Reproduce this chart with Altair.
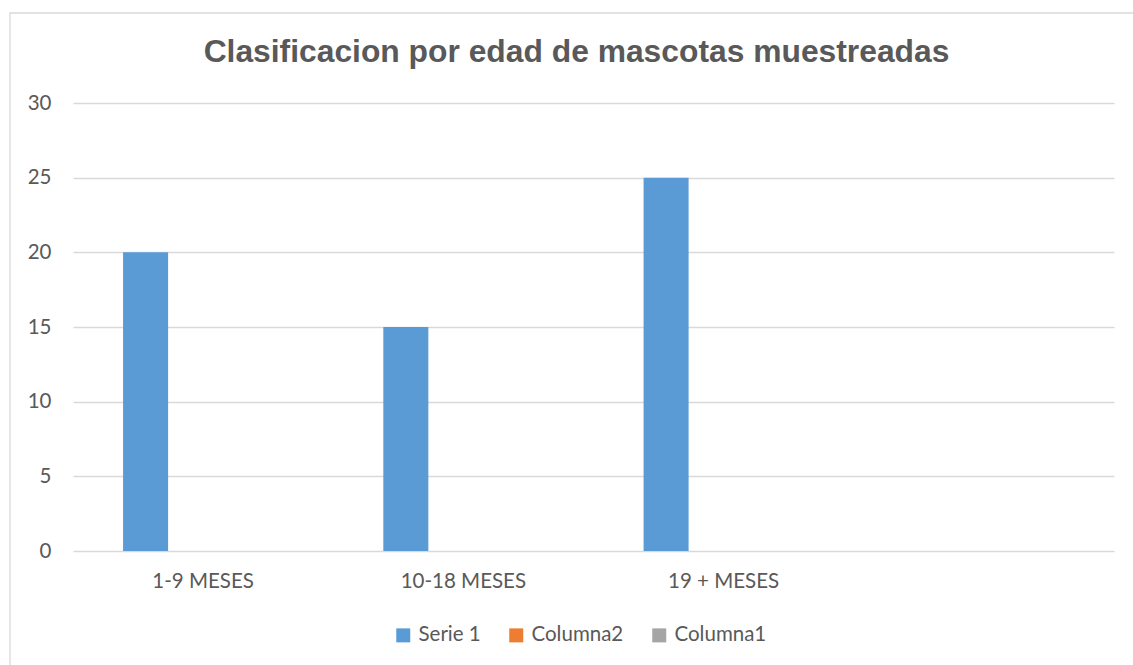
import altair as alt
import pandas as pd

# Age groups (the fourth slot is an empty category, as in the source workbook)
categories = ["1-9 MESES", "10-18 MESES", "19 + MESES"]
axis_domain = ["1-9 MESES", "10-18 MESES", "19 + MESES", " "]
series_names = ["Serie 1", "Columna2", "Columna1"]
serie1 = [20, 15, 25]
columna2 = [0, 0, 0]
columna1 = [0, 0, 0]
series_colors = ["#5B9BD5", "#ED7D31", "#A5A5A5"]
y_ticks = [0, 5, 10, 15, 20, 25, 30]
title_text = "Clasificacion por edad de mascotas muestreadas"

rows = []
for name, values in zip(series_names, [serie1, columna2, columna1]):
    for cat, v in zip(categories, values):
        rows.append({"edad": cat, "serie": name, "valor": v})
df = pd.DataFrame(rows)

TEXT = "#595959"
GRID = "#D9D9D9"
AXIS_FONT = "Lato"

W, H = 1041, 448

bars = alt.Chart(df).mark_bar(clip=False).encode(
    x=alt.X(
        "edad:N",
        sort=axis_domain,
        scale=alt.Scale(domain=axis_domain, paddingInner=0, paddingOuter=0),
        axis=alt.Axis(
            title=None, labelAngle=0, domain=False, ticks=False, grid=False,
            labelFont=AXIS_FONT, labelFontSize=20.5, labelColor=TEXT,
            labelPadding=20,
        ),
    ),
    xOffset=alt.XOffset(
        "serie:N",
        sort=series_names,
        scale=alt.Scale(domain=series_names, paddingInner=0.2174, paddingOuter=0.87),
    ),
    y=alt.Y(
        "valor:Q",
        scale=alt.Scale(domain=[0, 30], nice=False),
        axis=alt.Axis(
            title=None, values=y_ticks, domain=False, ticks=False,
            grid=True, gridColor=GRID, gridWidth=1.3,
            labelFont=AXIS_FONT, labelFontSize=20.5, labelColor=TEXT,
            labelPadding=22,
        ),
    ),
    color=alt.Color(
        "serie:N",
        sort=series_names,
        scale=alt.Scale(domain=series_names, range=series_colors),
        legend=alt.Legend(
            title=None, orient="none", direction="horizontal", columns=3,
            legendX=320, legendY=522,
            symbolType="square", symbolSize=196, symbolStrokeWidth=0,
            labelFont=AXIS_FONT, labelFontSize=20.5, labelColor=TEXT,
            labelOffset=5, columnPadding=25,
        ),
    ),
)

# Chart-area border
border = alt.Chart(pd.DataFrame({"k": [0]})).mark_rect(
    fill=None, stroke=GRID, strokeWidth=1.3, clip=False
).encode(
    x=alt.value(-63), x2=alt.value(1100), y=alt.value(-90), y2=alt.value(700)
)

title = alt.Chart(pd.DataFrame({"t": [title_text]})).mark_text(
    font="Liberation Sans", fontSize=31.8, fontWeight="bold", color=TEXT,
    align="center", baseline="alphabetic", clip=False,
).encode(
    text="t:N", x=alt.value(503.5), y=alt.value(-41)
)

chart = alt.layer(border, bars, title).properties(
    width=W, height=H,
    autosize=alt.AutoSizeParams(type="none"),
    padding={"left": 73, "top": 103, "right": 19, "bottom": 114},
    background="white",
).configure_view(stroke=None)

chart.save("out.html", embed_options={"renderer": "svg", "actions": False})
